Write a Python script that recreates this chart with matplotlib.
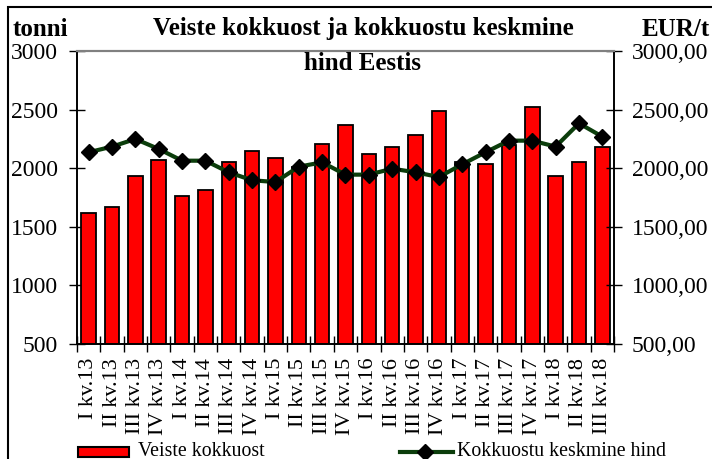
import matplotlib
matplotlib.use("Agg")
import matplotlib.pyplot as plt
import numpy as np
from matplotlib.patches import Rectangle
from matplotlib.lines import Line2D
from matplotlib.ticker import FuncFormatter, FixedLocator

categories = ["I kv.13", "II kv.13", "III kv.13", "IV kv.13",
              "I kv.14", "II kv.14", "III kv.14", "IV kv.14",
              "I kv.15", "II kv.15", "III kv.15", "IV kv.15",
              "I kv.16", "II kv.16", "III kv.16", "IV kv.16",
              "I kv.17", "II kv.17", "III kv.17", "IV kv.17",
              "I kv.18", "II kv.18", "III kv.18"]
kokkuost = [1615, 1666, 1933, 2067, 1765, 1817, 2053, 2149, 2084, 2013, 2204, 2371,
            2119, 2184, 2286, 2485, 2056, 2033, 2198, 2520, 1933, 2053, 2184]
hind = [2136, 2184, 2249, 2164, 2064, 2064, 1965, 1897, 1882, 2013, 2050, 1945,
        1945, 1996, 1965, 1925, 2033, 2136, 2235, 2235, 2184, 2383, 2269]
left_ticks = [500, 1000, 1500, 2000, 2500, 3000]

W, H = 712, 459
plt.rcParams['font.family'] = ['Liberation Serif', 'DejaVu Serif']
fig = plt.figure(figsize=(W / 100, H / 100), dpi=100)

L, R, T, B = 77, 614, 51, 344
ax = fig.add_axes([L / W, 1 - B / H, (R - L) / W, (B - T) / H])
ax2 = ax.twinx()

x = np.arange(len(categories))
ax.bar(x, kokkuost, width=0.62, color='#ff0000', edgecolor='black', linewidth=1.3, zorder=2)
ax.set_xlim(-0.5, len(categories) - 0.5)
ax.set_ylim(500, 3000)
ax.set_yticks(left_ticks)
ax.set_yticklabels([str(v) for v in left_ticks])

ax.set_xticks(x)
ax.set_xticklabels(categories, rotation=90, fontsize=16)
ax.tick_params(axis='x', which='major', length=0, pad=10)
ax.xaxis.set_minor_locator(FixedLocator(np.arange(-0.5, len(categories), 1.0)))
ax.tick_params(axis='x', which='minor', direction='inout', length=11, width=1)
ax.tick_params(axis='y', direction='inout', length=11, width=1, labelsize=17, pad=8)

ax2.plot(x, hind, color='#0b3d0b', linewidth=3, marker='D', markersize=8,
         markerfacecolor='black', markeredgecolor='black', zorder=3)
ax2.set_ylim(500, 3000)
ax2.set_yticks(left_ticks)
ax2.yaxis.set_major_formatter(FuncFormatter(lambda v, p: f"{v:.2f}".replace('.', ',')))
ax2.tick_params(axis='y', direction='inout', length=11, width=1, labelsize=17, pad=7.5)

for a in (ax, ax2):
    for s in ('left', 'right', 'bottom'):
        a.spines[s].set_color('black')
        a.spines[s].set_linewidth(1.2)
    a.spines['top'].set_color('#808080')
    a.spines['top'].set_linewidth(1.5)

# Outer border (left and top visible)
fig.add_artist(Rectangle((8 / W, -0.05), 1.1, 1 - 7 / H + 0.05, transform=fig.transFigure,
                         fill=False, edgecolor='black', linewidth=1.5))

fig.text(363 / W, 1 - 29 / H, "Veiste kokkuost ja kokkuostu keskmine", ha='center', va='center',
         fontsize=18, fontweight='bold')
fig.text(363 / W, 1 - 64 / H, "hind Eestis", ha='center', va='center',
         fontsize=18, fontweight='bold')
fig.text(13 / W, 1 - 29 / H, "tonni", ha='left', va='center', fontsize=18, fontweight='bold')
fig.text(710 / W, 1 - 29 / H, "EUR/t", ha='right', va='center', fontsize=18, fontweight='bold')

# Legend
fig.add_artist(Rectangle((78 / W, 1 - 457 / H), 51 / W, 10 / H, transform=fig.transFigure,
                         facecolor='#ff0000', edgecolor='black', linewidth=1.5))
fig.text(138 / W, 1 - 451 / H, "Veiste kokkuost", ha='left', va='center', fontsize=14.3)
fig.add_artist(Line2D([400 / W, 453 / W], [1 - 452 / H, 1 - 452 / H], transform=fig.transFigure,
                      color='#0b3d0b', linewidth=3))
fig.add_artist(Line2D([425 / W], [1 - 452 / H], transform=fig.transFigure, marker='D',
                      markersize=8, color='black'))
fig.text(457 / W, 1 - 451 / H, "Kokkuostu keskmine hind", ha='left', va='center', fontsize=14.3)

fig.savefig("out.png", dpi=100)
